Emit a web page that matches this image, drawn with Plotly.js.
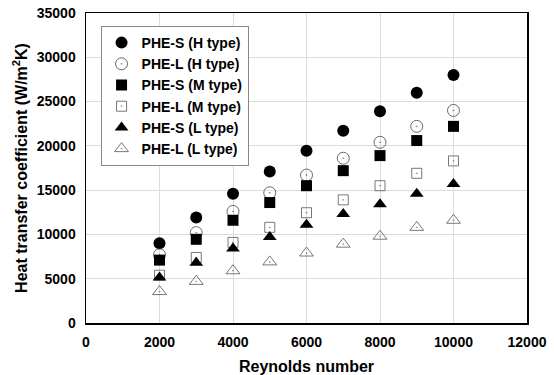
<!DOCTYPE html>
<html>
<head>
<meta charset="utf-8">
<script src="https://cdn.plot.ly/plotly-3.0.1.min.js"></script>
<style>html,body{margin:0;padding:0;background:#fff;}#chart{width:554px;height:375px;}</style>
</head>
<body>
<div id="chart"></div>
<script>
const reynolds = [2000, 3000, 4000, 5000, 6000, 7000, 8000, 9000, 10000];
const pheS_H = [9000, 11900, 14600, 17100, 19450, 21700, 23900, 26000, 28000];
const pheL_H = [7700, 10200, 12600, 14700, 16700, 18600, 20400, 22200, 24000];
const pheS_M = [7100, 9450, 11600, 13600, 15500, 17200, 18900, 20600, 22200];
const pheL_M = [5400, 7400, 9100, 10800, 12450, 13900, 15500, 16900, 18300];
const pheS_L = [5150, 6800, 8400, 9700, 11100, 12300, 13400, 14600, 15700];
const pheL_L = [3550, 4700, 5900, 6900, 7900, 8900, 9800, 10800, 11600];
const seriesNames = ["PHE-S (H type)", "PHE-L (H type)", "PHE-S (M type)", "PHE-L (M type)", "PHE-S (L type)", "PHE-L (L type)"];
const xTicks = [0, 2000, 4000, 6000, 8000, 10000, 12000];
const yTicks = [0, 5000, 10000, 15000, 20000, 25000, 30000, 35000];

const seriesValues = [pheS_H, pheL_H, pheS_M, pheL_M, pheS_L, pheL_L];
const styles = [
  {symbol: "circle", size: 12, color: "#000", lw: 0},
  {symbol: "circle-open-dot", size: 12, color: "#444", lw: 0.8},
  {symbol: "square", size: 11, color: "#000", lw: 0},
  {symbol: "square-open-dot", size: 10, color: "#555", lw: 0.8},
  {symbol: "triangle-up", size: 12, color: "#000", lw: 0},
  {symbol: "triangle-up-open-dot", size: 12, color: "#555", lw: 0.8}
];

const traces = seriesValues.map((vals, i) => ({
  x: reynolds,
  y: vals,
  name: seriesNames[i],
  type: "scatter",
  mode: "markers",
  marker: {
    symbol: styles[i].symbol,
    size: styles[i].size,
    color: styles[i].color,
    line: {color: styles[i].color, width: styles[i].lw}
  }
}));

const tickFont = {family: "Arial, 'Liberation Sans', sans-serif", size: 14, color: "#000", weight: "bold"};
const titleFont = {family: "Arial, 'Liberation Sans', sans-serif", size: 16, color: "#000", weight: "bold"};

const layout = {
  width: 554,
  height: 375,
  margin: {l: 86, r: 27, t: 13, b: 52},
  paper_bgcolor: "#fff",
  plot_bgcolor: "#fff",
  showlegend: true,
  legend: {
    x: 0.033, y: 0.958, xanchor: "left", yanchor: "top",
    bgcolor: "#fff", bordercolor: "#888", borderwidth: 1,
    font: {family: "Arial, 'Liberation Sans', sans-serif", size: 14, color: "#000", weight: "bold"},
    tracegroupgap: 0
  },
  xaxis: {
    range: [0, 12000],
    tickvals: xTicks,
    ticktext: xTicks.map(String),
    showgrid: true, gridcolor: "#dcdcdc", gridwidth: 1,
    zeroline: false,
    showline: true, linecolor: "#000", linewidth: 1.5, mirror: true,
    ticks: "outside", ticklen: 6, tickcolor: "rgba(0,0,0,0)",
    tickfont: tickFont,
    title: {text: "Reynolds number", font: titleFont, standoff: 12}
  },
  yaxis: {
    range: [0, 35000],
    tickvals: yTicks,
    ticktext: yTicks.map(String),
    showgrid: true, gridcolor: "#dcdcdc", gridwidth: 1,
    zeroline: false,
    showline: true, linecolor: "#000", linewidth: 1.5, mirror: true,
    ticks: "outside", ticklen: 6, tickcolor: "rgba(0,0,0,0)",
    tickfont: tickFont,
    title: {text: "Heat transfer coefficient (W/m<sup>2</sup>K)", font: titleFont, standoff: 5}
  }
};

Plotly.newPlot("chart", traces, layout, {displayModeBar: false, staticPlot: true});
</script>
</body>
</html>
